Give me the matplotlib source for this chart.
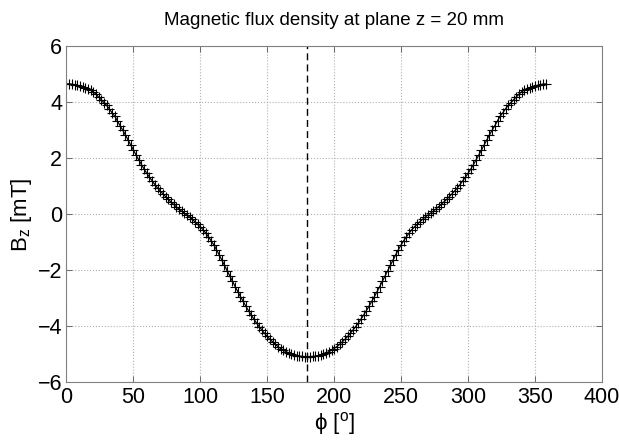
import matplotlib
matplotlib.use("Agg")
import matplotlib.pyplot as plt
import numpy as np

# azimuth angle in degrees, 0..358 step 2
phi_deg = list(range(0, 360, 2))

# Bz [mT]
bz_mT = [
    4.65, 4.65, 4.64, 4.62, 4.60, 4.57, 4.54, 4.50, 4.46, 4.42,
    4.37, 4.28, 4.18, 4.08, 3.98, 3.88, 3.76, 3.62, 3.50, 3.33,
    3.16, 3.00, 2.83, 2.65, 2.47, 2.29, 2.11, 1.94, 1.77, 1.61,
    1.46, 1.32, 1.19, 1.06, 0.94, 0.83, 0.73, 0.63, 0.53, 0.44,
    0.35, 0.27, 0.19, 0.11, 0.04, -0.03, -0.10, -0.18, -0.27, -0.36,
    -0.45, -0.55, -0.67, -0.80, -0.94, -1.09, -1.26, -1.44, -1.63, -1.82,
    -2.01, -2.20, -2.39, -2.58, -2.76, -2.94, -3.11, -3.28, -3.44, -3.59,
    -3.74, -3.88, -4.01, -4.13, -4.25, -4.36, -4.46, -4.55, -4.64, -4.72,
    -4.79, -4.85, -4.90, -4.95, -4.99, -5.02, -5.04, -5.06, -5.07, -5.08,
    -5.08, -5.08, -5.07, -5.06, -5.04, -5.02, -4.99, -4.95, -4.90, -4.85,
    -4.79, -4.72, -4.64, -4.55, -4.46, -4.36, -4.25, -4.13, -4.01, -3.88,
    -3.74, -3.59, -3.44, -3.28, -3.11, -2.94, -2.76, -2.58, -2.39, -2.20,
    -2.01, -1.82, -1.63, -1.44, -1.26, -1.09, -0.94, -0.80, -0.67, -0.55,
    -0.45, -0.36, -0.27, -0.18, -0.10, -0.03, 0.04, 0.11, 0.19, 0.27,
    0.35, 0.44, 0.53, 0.63, 0.73, 0.83, 0.94, 1.06, 1.19, 1.32,
    1.46, 1.61, 1.77, 1.94, 2.11, 2.29, 2.47, 2.65, 2.83, 3.00,
    3.16, 3.33, 3.50, 3.62, 3.76, 3.88, 3.98, 4.08, 4.18, 4.28,
    4.37, 4.42, 4.46, 4.50, 4.54, 4.57, 4.60, 4.62, 4.64, 4.65,
]

marker_phi = 180
x_ticks = [0, 50, 100, 150, 200, 250, 300, 350, 400]
y_ticks = [-6, -4, -2, 0, 2, 4, 6]

plt.rcParams['font.family'] = ['Liberation Sans', 'DejaVu Sans']
plt.rcParams['mathtext.fontset'] = 'custom'
plt.rcParams['mathtext.rm'] = 'Liberation Sans'
plt.rcParams['mathtext.it'] = 'Liberation Sans:italic'

fig = plt.figure(figsize=(6.19, 4.41), dpi=100)
ax = fig.add_axes([0.1074, 0.1327, 0.865, 0.763])

ax.plot(phi_deg, bz_mT, color='black', linewidth=0.9, marker='+',
        markersize=7, markeredgewidth=0.8)
ax.axvline(marker_phi, color='black', linestyle='--', linewidth=1.0,
           dashes=(5, 3))

ax.set_xlim(0, 400)
ax.set_ylim(-6, 6)
ax.set_xticks(x_ticks)
ax.set_yticks(y_ticks)
ax.tick_params(direction='in', length=4, width=0.6, labelsize=15.5,
               top=True, right=True, color='#555555', pad=3)

ax.grid(True, linestyle=':', color='#b0b0b0', linewidth=0.8)
for s in ax.spines.values():
    s.set_color('#808080')
    s.set_linewidth(0.8)

ax.set_title('Magnetic flux density at plane z = 20 mm', fontsize=13.5, pad=15)
ax.set_xlabel('\u03d5 [$^{\\mathrm{o}}$]', fontsize=16, labelpad=2)
ax.set_ylabel(r'B$_{\mathrm{z}}$ [mT]', fontsize=16, labelpad=3)

fig.savefig('out.png', dpi=100)
